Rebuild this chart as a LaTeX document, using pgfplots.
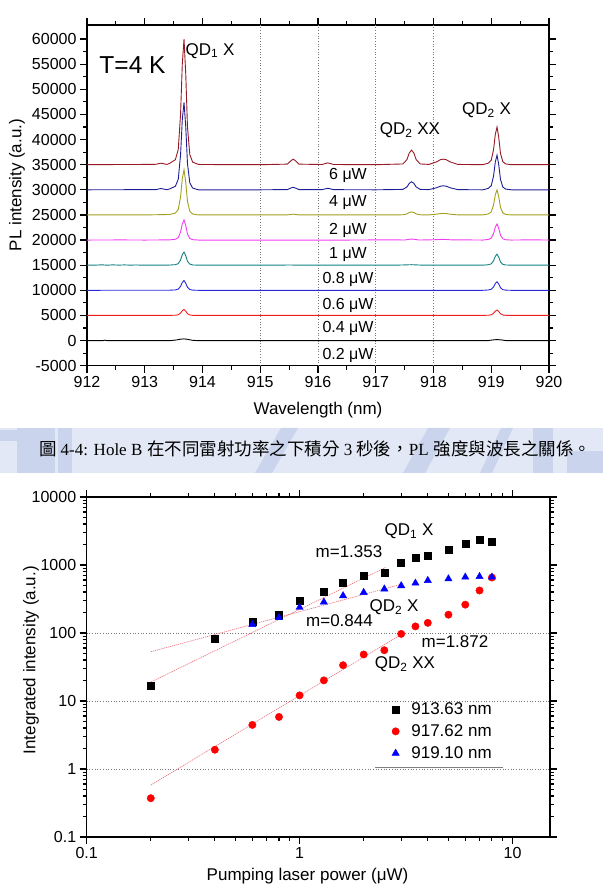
\documentclass[border=0pt]{standalone}
\usepackage{fontspec}
\setmainfont{Liberation Sans}
\newfontfamily\capserif{Liberation Serif}
\newfontfamily\cjk{Noto Sans CJK TC}
\usepackage{pgfplots}
\pgfplotsset{compat=1.18}

\definecolor{sixuw}{RGB}{150,25,35}
\definecolor{fouruw}{RGB}{30,30,150}
\definecolor{twouw}{RGB}{160,160,30}
\definecolor{oneuw}{RGB}{240,60,240}
\definecolor{eightuw}{RGB}{20,130,130}
\definecolor{sixtenuw}{RGB}{40,40,220}
\definecolor{fourtenuw}{RGB}{240,30,30}
\definecolor{fitred}{RGB}{230,110,120}
\definecolor{wmlight}{RGB}{226,232,245}
\definecolor{wmdark}{RGB}{202,212,237}
\definecolor{gridgray}{RGB}{120,120,120}

\pgfplotsset{
  framestyle/.style={
    scale only axis,
    axis line style={line width=1.4pt},
    tick style={line width=1.2pt, black},
    tick align=outside,
    major tick length=7pt,
    minor tick length=4pt,
    tick label style={font=\fontsize{16}{18}\selectfont},
    label style={font=\fontsize{17}{20}\selectfont},
    /pgf/number format/assume math mode=true,
  },
}

\newcommand{\lbl}{\fontsize{17}{20}\selectfont}
\newcommand{\cjkcap}{\fontsize{17.5}{20}\cjk}

\begin{document}
\begin{tikzpicture}
\useasboundingbox (0,0) rectangle (603pt,891pt);

% watermark band behind the caption
\fill[wmlight] (0pt,418pt) rectangle (603pt,463pt);
\fill[wmdark] (0pt,450pt) rectangle (17pt,461pt);
\fill[wmdark] (17pt,418pt) rectangle (55pt,463pt);
\fill[wmdark] (58pt,418pt) rectangle (72pt,463pt);
\fill[wmdark] (255pt,418pt) -- (272pt,418pt) -- (298pt,463pt) -- (281pt,463pt) -- cycle;
\fill[wmdark] (403pt,418pt) -- (425pt,418pt) -- (450pt,463pt) -- (428pt,463pt) -- cycle;
\fill[wmdark] (480pt,418pt) -- (492pt,418pt) -- (513pt,463pt) -- (501pt,463pt) -- cycle;
\fill[wmdark] (533pt,418pt) rectangle (553pt,463pt);
\fill[wmdark] (567pt,418pt) rectangle (603pt,440pt);

% ---------- PL spectra ----------
\begin{axis}[framestyle,
  at={(87pt,525.3pt)}, anchor=south west,
  width=462pt, height=340.7pt,
  xmin=912, xmax=920, ymin=-5000, ymax=62800,
  xtick={912,913,...,920}, minor x tick num=1,
  ytick={-5000,0,...,60000}, minor y tick num=1,
  scaled y ticks=false,
  yticklabel style={/pgf/number format/fixed, /pgf/number format/set thousands separator={}},
  xticklabel style={/pgf/number format/set thousands separator={}},
  extra x ticks={915,916,917,918},
  extra x tick labels={},
  extra x tick style={grid=major, major grid style={gridgray, line width=0.6pt, dash pattern=on 0.7pt off 2pt}},
  xlabel={Wavelength (nm)}, ylabel={PL intensity (a.u.)},
  xlabel style={at={(axis description cs:0.5,-0.13)}, anchor=center},
  ylabel style={at={(axis description cs:-0.1515,0.53)}, anchor=center},
  every axis plot/.append style={line width=0.9pt},
]
% 0.2 uW
\addplot[black] coordinates {
(912.0,0) (912.28,0) (912.31,80) (912.34,0) (913.45,0) (913.55,120) (913.62,280)
(913.68,330) (913.74,250) (913.82,60) (913.9,0) (918.95,0) (919.02,120) (919.10,200)
(919.18,120) (919.25,0) (920.0,0)};
% 0.4 uW
\addplot[fourtenuw] coordinates {
(912.0,5000) (913.43,5012) (913.53,5047) (913.58,5142) (913.62,5472) (913.65,5944)
(913.68,6180) (913.71,5850) (913.74,5354) (913.78,5094) (913.83,5024) (913.93,5000)
(918.85,5000) (918.95,5043) (919.00,5130) (919.04,5432) (919.07,5864) (919.10,6080)
(919.13,5778) (919.16,5324) (919.20,5086) (919.25,5022) (919.35,5000) (920.0,5000)};
% 0.6 uW
\addplot[sixtenuw] coordinates {
(912.0,10000) (913.43,10020) (913.53,10078) (913.58,10234) (913.62,10780) (913.65,11560)
(913.68,11950) (913.71,11404) (913.74,10585) (913.78,10156) (913.83,10039) (913.93,10000)
(918.85,10000) (918.95,10068) (919.00,10204) (919.04,10680) (919.07,11360) (919.10,11700)
(919.13,11224) (919.16,10510) (919.20,10136) (919.25,10034) (919.35,10000) (920.0,10000)};
% 0.8 uW
\addplot[eightuw] coordinates {
(912.0,15000) (912.15,15010) (912.25,15080) (912.35,15000) (912.45,15070) (912.55,15010)
(912.65,15060) (912.75,15000) (912.85,15050) (912.95,15000) (913.43,15026) (913.53,15104)
(913.58,15312) (913.62,16040) (913.65,17080) (913.68,17600) (913.71,16872) (913.74,15780)
(913.78,15208) (913.83,15052) (913.93,15000) (915.3,15000) (915.5,15040) (915.7,15000)
(917.0,15000) (917.4,15020) (917.62,15100) (917.8,15010) (918.85,15000) (918.95,15088)
(919.00,15264) (919.04,15880) (919.07,16760) (919.10,17200) (919.13,16584) (919.16,15660)
(919.20,15176) (919.25,15044) (919.35,15000) (920.0,15000)};
% 1 uW
\addplot[oneuw] coordinates {
(912.0,20000) (912.6,20030) (913.0,20000) (913.43,20040) (913.53,20160) (913.58,20480)
(913.62,21600) (913.65,23200) (913.68,24000) (913.71,22880) (913.74,21200) (913.78,20320)
(913.83,20080) (913.93,20000) (915.0,20000) (916.5,20000) (917.3,20050) (917.5,20010)
(917.58,20160) (917.62,20200) (917.66,20160) (917.75,20010) (918.0,20060) (918.17,20150)
(918.3,20050) (918.6,20030) (918.85,20000) (918.95,20128) (919.00,20384) (919.04,21280)
(919.07,22560) (919.10,23200) (919.13,22304) (919.16,20960) (919.20,20256) (919.25,20064)
(919.35,20000) (919.7,20050) (920.0,20000)};
% 2 uW
\addplot[twouw] coordinates {
(912.0,25000) (913.0,25000) (913.43,25090) (913.53,25360) (913.58,26080) (913.62,28600)
(913.65,32200) (913.68,34000) (913.71,31480) (913.74,27700) (913.78,25720) (913.83,25180)
(913.93,25000) (915.0,25000) (915.47,25015) (915.57,25150) (915.67,25015) (917.0,25000)
(917.47,25030) (917.54,25210) (917.58,25480) (917.62,25600) (917.66,25480) (917.70,25210)
(917.77,25030) (917.92,25015) (918.05,25150) (918.12,25270) (918.17,25300) (918.22,25270)
(918.29,25150) (918.42,25015) (918.85,25000) (918.95,25200) (919.00,25600) (919.04,27000)
(919.07,29000) (919.10,30000) (919.13,28600) (919.16,26500) (919.20,25400) (919.25,25100)
(919.35,25000) (920.0,25000)};
% 4 uW
\addplot[fouruw] coordinates {
(912.0,30000) (912.5,30020) (913.0,30030) (913.2,30025) (913.25,30200) (913.28,30250)
(913.32,30175) (913.38,30025) (913.43,30174) (913.53,30696) (913.58,32088) (913.62,36960)
(913.65,43920) (913.68,47400) (913.71,42528) (913.74,35220) (913.78,31392) (913.83,30348)
(913.93,30000) (914.5,30000) (915.0,30000) (915.47,30050) (915.53,30350) (915.57,30500)
(915.61,30350) (915.67,30050) (916.07,30030) (916.13,30210) (916.17,30300) (916.21,30210)
(916.27,30030) (917.0,30000) (917.47,30080) (917.54,30560) (917.58,31280) (917.62,31600)
(917.66,31280) (917.70,30560) (917.77,30080) (917.92,30040) (918.05,30400) (918.12,30720)
(918.17,30800) (918.22,30720) (918.29,30400) (918.42,30040) (918.85,30000) (918.95,30276)
(919.00,30828) (919.04,32760) (919.07,35520) (919.10,36900) (919.13,34968) (919.16,32070)
(919.20,30552) (919.25,30138) (919.35,30000) (920.0,30000)};
% 6 uW
\addplot[sixuw] coordinates {
(912.0,35000) (912.5,35030) (913.0,35050) (913.2,35080) (913.25,35240) (913.28,35300)
(913.32,35210) (913.38,35050) (913.43,35250) (913.53,36000) (913.58,38000) (913.62,45000)
(913.65,55000) (913.68,60000) (913.71,53000) (913.74,42500) (913.78,37000) (913.83,35500)
(913.93,35050) (914.5,35000) (915.0,35000) (915.47,35110) (915.53,35770) (915.57,36100)
(915.61,35770) (915.67,35110) (916.07,35035) (916.13,35245) (916.17,35350) (916.21,35245)
(916.27,35035) (917.0,35000) (917.47,35145) (917.54,36015) (917.58,37320) (917.62,37900)
(917.66,37320) (917.70,36015) (917.77,35145) (917.92,35055) (918.05,35550) (918.12,35990)
(918.17,36100) (918.22,35990) (918.29,35550) (918.42,35055) (918.85,35000) (918.95,35300)
(919.00,35900) (919.04,38000) (919.07,41000) (919.10,42500) (919.13,40400) (919.16,37250)
(919.20,35600) (919.25,35150) (919.35,35000) (920.0,35000)};
\end{axis}

% labels of the spectra
\node[font=\fontsize{24.5}{28}\selectfont, anchor=base] at (132.5pt,817.7pt) {T=4 K};
\node[font=\lbl, anchor=base] at (210pt,835.7pt) {QD\textsubscript{1} X};
\node[font=\lbl, anchor=base] at (410pt,756pt) {QD\textsubscript{2} XX};
\node[font=\lbl, anchor=base] at (486.5pt,776pt) {QD\textsubscript{2} X};
\begin{scope}[every node/.style={font=\fontsize{16}{19}\selectfont, anchor=base}]
\node at (348pt,711pt) {6 μW};
\node at (348pt,684.3pt) {4 μW};
\node at (348pt,656.7pt) {2 μW};
\node at (348pt,632.7pt) {1 μW};
\node at (348pt,607pt) {0.8 μW};
\node at (348pt,581pt) {0.6 μW};
\node at (348pt,558.7pt) {0.4 μW};
\node at (348pt,531.7pt) {0.2 μW};
\end{scope}

% caption
\node[anchor=base west, inner sep=0pt, font=\fontsize{17}{20}\selectfont] at (39pt,435pt)
 {{\cjkcap 圖}\hspace{4pt}{\capserif 4-4: Hole B}\hspace{5pt}{\cjkcap 在不同雷射功率之下積分}\hspace{4pt}{\capserif 3}\hspace{4pt}{\cjkcap 秒後，}{\capserif PL}\hspace{5pt}{\cjkcap 強度與波長之關係。}};

% ---------- integrated intensity vs power ----------
\begin{axis}[framestyle,
  xmode=log, ymode=log,
  at={(86.7pt,54pt)}, anchor=south west,
  width=463.3pt, height=340pt,
  xmin=0.1, xmax=15, ymin=0.1, ymax=10000,
  xtick={0.1,1,10}, xticklabels={0.1,1,10},
  minor xtick={0.2,0.3,0.4,0.5,0.6,0.7,0.8,0.9,2,3,4,5,6,7,8,9},
  ytick={0.1,1,10,100,1000,10000}, yticklabels={0.1,1,10,100,1000,10000},
  minor ytick={0.2,0.3,0.4,0.5,0.6,0.7,0.8,0.9,2,3,4,5,6,7,8,9,20,30,40,50,60,70,80,90,
    200,300,400,500,600,700,800,900,2000,3000,4000,5000,6000,7000,8000,9000},
  extra y ticks={1,10,100},
  extra y tick labels={},
  extra y tick style={grid=major, major grid style={gridgray, line width=0.6pt, dash pattern=on 0.7pt off 2pt}},
  xlabel={Pumping laser power (μW)}, ylabel={Integrated intensity (a.u.)},
  xlabel style={at={(axis description cs:0.4766,-0.115)}, anchor=center},
  ylabel style={at={(axis description cs:-0.12,0.52)}, anchor=center},
  legend style={at={(axis description cs:0.652,0.407)}, anchor=north west,
    draw=none, fill=none, font=\lbl, row sep=4.5pt, column sep=10pt},
  legend cell align=left,
]
% power-law fits
\addplot[fitred, line width=0.6pt, dash pattern=on 1.2pt off 0.8pt, forget plot] coordinates {(0.2,19) (2.55,930)};
\addplot[fitred, line width=0.6pt, dash pattern=on 1.2pt off 0.8pt, forget plot] coordinates {(0.2,53) (3,520)};
\addplot[fitred, line width=0.6pt, dash pattern=on 1.2pt off 0.8pt, forget plot] coordinates {(0.2,0.58) (3,95)};
% measured points
\addplot[only marks, mark=square*, mark size=3.5pt, black] coordinates {
(0.2,16.6) (0.4,82) (0.6,148) (0.8,186) (1,301) (1.3,408) (1.6,541) (2,700)
(2.5,774) (3,1097) (3.5,1271) (4,1373) (5,1663) (6,2085) (7,2387) (8,2230)};
\addlegendentry{913.63 nm}
\addplot[only marks, mark=*, mark size=3.7pt, red, mark options={fill=red, draw=red}] coordinates {
(0.2,0.372) (0.4,1.92) (0.6,4.45) (0.8,5.83) (1,12.1) (1.3,20.1) (1.6,33.6) (2,48.3)
(2.5,55.8) (3,97) (3.5,125) (4,141) (5,186) (6,261) (7,422) (8,654)};
\addlegendentry{917.62 nm}
\addplot[only marks, mark=triangle*, mark size=4.2pt, blue, mark options={fill=blue, draw=blue}] coordinates {
(0.6,133) (0.8,168) (1,238) (1.3,285) (1.6,353) (2,394) (2.5,443) (3,495)
(3.5,541) (4,591) (5,626) (6,663) (7,676) (8,663)};
\addlegendentry{919.10 nm}
\end{axis}

\draw[gray, line width=0.8pt] (375pt,123.7pt) -- (503.3pt,123.7pt);

\node[font=\lbl, anchor=base] at (409pt,355.5pt) {QD\textsubscript{1} X};
\node[font=\lbl, anchor=base] at (349pt,333pt) {m=1.353};
\node[font=\lbl, anchor=base] at (394pt,279pt) {QD\textsubscript{2} X};
\node[font=\lbl, anchor=base] at (339.5pt,264.3pt) {m=0.844};
\node[font=\lbl, anchor=base] at (455pt,243pt) {m=1.872};
\node[font=\lbl, anchor=base] at (405pt,222.3pt) {QD\textsubscript{2} XX};
\end{tikzpicture}
\end{document}
